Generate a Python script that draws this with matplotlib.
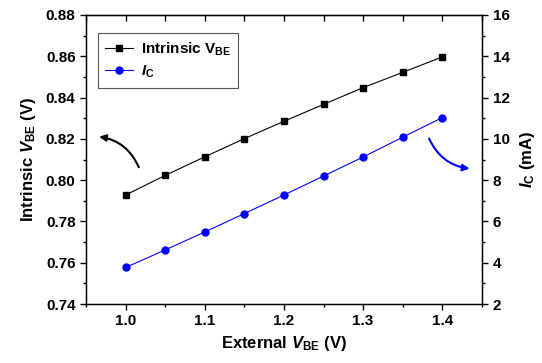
import numpy as np
import matplotlib.pyplot as plt
from matplotlib.patches import FancyArrowPatch
from matplotlib.lines import Line2D

plt.rcParams['font.family'] = 'Liberation Sans'
plt.rcParams['font.weight'] = 'bold'
plt.rcParams['axes.labelweight'] = 'bold'
plt.rcParams['mathtext.fontset'] = 'custom'
plt.rcParams['mathtext.rm'] = 'Liberation Sans:bold'
plt.rcParams['mathtext.it'] = 'Liberation Sans:italic:bold'
plt.rcParams['mathtext.bf'] = 'Liberation Sans:bold'

v_ext = [1.00, 1.05, 1.10, 1.15, 1.20, 1.25, 1.30, 1.35, 1.40]
v_int = [0.7928, 0.8023, 0.8113, 0.8201, 0.8285, 0.8367, 0.8448, 0.8522, 0.8597]
i_c = [3.77, 4.62, 5.49, 6.38, 7.28, 8.20, 9.12, 10.08, 11.03]

fig = plt.figure(figsize=(5.42, 3.63), dpi=100)
ax = fig.add_axes([0.1587, 0.1625, 0.7303, 0.7962])
ax2 = ax.twinx()

ax.plot(v_ext, v_int, color='black', lw=0.8, marker='s', ms=5)
ax2.plot(v_ext, i_c, color='#0000ff', lw=0.8, marker='o', ms=5)

ax.set_xlim(0.95, 1.45)
ax.set_ylim(0.74, 0.88)
ax2.set_ylim(2, 16)
ax.set_xticks(np.arange(1.0, 1.41, 0.1))
ax.set_xticks(np.arange(0.95, 1.451, 0.05), minor=True)
ax.set_yticks(np.arange(0.74, 0.881, 0.02))
ax.set_yticks(np.arange(0.74, 0.881, 0.01), minor=True)
ax2.set_yticks(np.arange(2, 17, 2))
ax2.set_yticks(np.arange(2, 17, 1), minor=True)
ax.yaxis.set_major_formatter(plt.FormatStrFormatter('%.2f'))
ax.xaxis.set_major_formatter(plt.FormatStrFormatter('%.1f'))

ax.tick_params(axis='x', which='both', direction='out', labelsize=11)
ax.tick_params(axis='y', which='both', direction='out', labelsize=11)
ax2.tick_params(axis='y', which='both', direction='out', labelsize=11, pad=4)
for a in (ax, ax2):
    a.tick_params(which='major', length=4, width=1)
    a.tick_params(which='minor', length=2.5, width=1)

# inward ticks along the top edge
top = ax.secondary_xaxis('top')
top.set_xticks(np.arange(1.0, 1.41, 0.1))
top.set_xticks(np.arange(0.95, 1.451, 0.05), minor=True)
top.tick_params(which='both', direction='in', labeltop=False, width=1)
top.tick_params(which='major', length=4)
top.tick_params(which='minor', length=4)

for sp in ax.spines.values():
    sp.set_linewidth(1)

ax.set_xlabel(r'External $\mathit{V}_{\mathrm{BE}}$ (V)', fontsize=12, labelpad=4)
ax.set_ylabel(r'Intrinsic $\mathit{V}_{\mathrm{BE}}$ (V)', fontsize=12, labelpad=6)
ax2.set_ylabel(r'$\mathit{I}_{\mathrm{C}}$ (mA)', fontsize=12, labelpad=6)

handles = [Line2D([], [], color='black', lw=0.8, marker='s', ms=5),
           Line2D([], [], color='#0000ff', lw=0.8, marker='o', ms=5)]
labels = [r'Intrinsic V$_{\mathrm{BE}}$', r'$\mathit{I}_{\mathrm{C}}$']
leg = ax.legend(handles, labels, loc='upper left', bbox_to_anchor=(0.018, 0.955),
                fontsize=11, fancybox=False, edgecolor='#555555', framealpha=1,
                handlelength=1.8, handletextpad=0.5, borderpad=0.5,
                labelspacing=0.4, borderaxespad=0.3)
leg.get_frame().set_linewidth(0.8)

ax.add_patch(FancyArrowPatch((1.018, 0.805), (0.963, 0.8212),
                             connectionstyle='arc3,rad=0.3', arrowstyle='-|>',
                             mutation_scale=10, color='black', lw=1.5))
ax.add_patch(FancyArrowPatch((1.382, 0.8214), (1.438, 0.8054),
                             connectionstyle='arc3,rad=0.3', arrowstyle='-|>',
                             mutation_scale=10, color='#0000ff', lw=1.5))

fig.savefig('out.png', dpi=100)
